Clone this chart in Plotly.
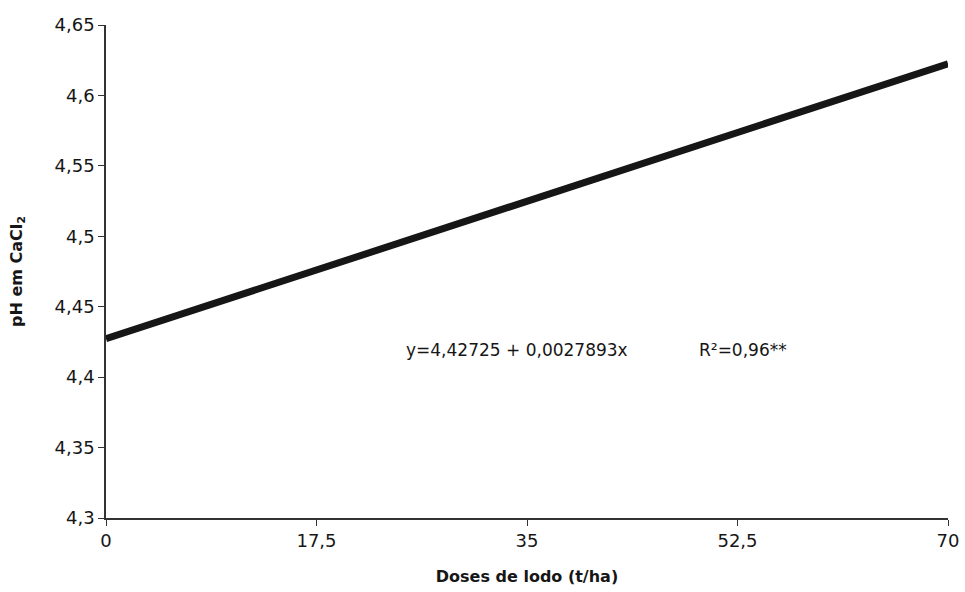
import plotly.graph_objects as go

# Regression line: pH (CaCl2) vs. sludge dose
doses = [0, 70]
ph_fit = [4.42725, 4.6225]  # y = 4.42725 + 0.0027893x at the end points

x_ticks = [0, 17.5, 35, 52.5, 70]
x_tick_labels = ["0", "17,5", "35", "52,5", "70"]
y_ticks = [4.30, 4.35, 4.40, 4.45, 4.50, 4.55, 4.60, 4.65]
y_tick_labels = ["4,3", "4,35", "4,4", "4,45", "4,5", "4,55", "4,6", "4,65"]

equation_text = "y=4,42725 + 0,0027893x"
r2_text = "R²=0,96**"

font_family = "DejaVu Sans, Arial, sans-serif"
ink = "#161616"

fig = go.Figure()
fig.add_trace(go.Scatter(
    x=doses, y=ph_fit, mode="lines",
    line=dict(color=ink, width=7),
    showlegend=False, hoverinfo="skip",
))

fig.add_annotation(x=24.8, y=4.4195, xref="x", yref="y", text=equation_text,
                   showarrow=False, xanchor="left", yanchor="middle",
                   font=dict(family=font_family, size=17, color=ink))
fig.add_annotation(x=49.1, y=4.4195, xref="x", yref="y", text=r2_text,
                   showarrow=False, xanchor="left", yanchor="middle",
                   font=dict(family=font_family, size=17, color=ink))

axis_common = dict(
    showgrid=False, zeroline=False, showline=True,
    linecolor="#333333", linewidth=1.5,
    ticks="outside", ticklen=6, tickwidth=1.2, tickcolor="#333333",
    tickfont=dict(family=font_family, size=18, color=ink),
    automargin=False,
)

fig.update_layout(
    width=965, height=592,
    margin=dict(l=106, r=17, t=25, b=74),
    paper_bgcolor="white", plot_bgcolor="white",
    xaxis=dict(range=[0, 70], tickmode="array", tickvals=x_ticks,
               ticktext=x_tick_labels,
               title=dict(text="<b>Doses de lodo (t/ha)</b>", standoff=20,
                          font=dict(family=font_family, size=16, color=ink)),
               **axis_common),
    yaxis=dict(range=[4.30, 4.65], tickmode="array", tickvals=y_ticks,
               ticktext=y_tick_labels,
               title=dict(text="<b>pH em CaCl<sub>2</sub></b>", standoff=28,
                          font=dict(family=font_family, size=16, color=ink)),
               **axis_common),
)

fig.write_html("out.html")
